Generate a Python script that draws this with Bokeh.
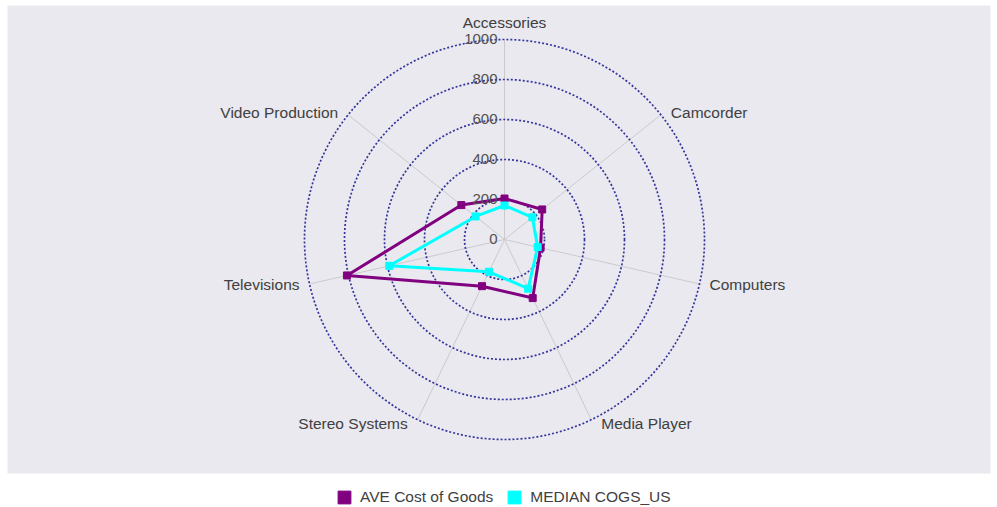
import math
from bokeh.plotting import figure
from bokeh.models import Range1d, Legend, LegendItem, ColumnDataSource
from bokeh.core.properties import value
from bokeh.embed import file_html
from bokeh.resources import INLINE

categories = ["Accessories", "Camcorder", "Computers", "Media Player",
              "Stereo Systems", "Televisions", "Video Production"]
ave_cost = [205, 241, 185, 325, 259, 808, 276]
median_cogs = [170, 178, 170, 273, 179, 591, 185]
ring_values = [200, 400, 600, 800, 1000]
tick_labels = ["0", "200", "400", "600", "800", "1000"]
series_names = ["AVE Cost of Goods", "MEDIAN COGS_US"]
series_colors = ["#800080", "#00ffff"]

R_MAX = 1000
UPP = 5.0  # data units per pixel
W, H = 995, 505
CX_PX, CY_PX = 504, 239          # centre of the radar in page pixels
PANEL = (7, 990, 5, 473)         # left, right, top, bottom of grey panel (px)
FONT_NAME = "Liberation Sans"
FONT = value(FONT_NAME)


def px_x(px):
    return (px - CX_PX) * UPP


def px_y(py):
    return (CY_PX - py) * UPP


p = figure(width=W, height=H, output_backend="svg", toolbar_location=None,
           x_range=Range1d(px_x(0), px_x(W)), y_range=Range1d(px_y(H), px_y(0)),
           min_border=0)
p.axis.visible = False
p.xgrid.visible = False
p.ygrid.visible = False
p.outline_line_color = None
p.background_fill_color = "white"
p.border_fill_color = "white"

# chart panel background
p.quad(left=[px_x(PANEL[0])], right=[px_x(PANEL[1])],
       top=[px_y(PANEL[2])], bottom=[px_y(PANEL[3])],
       fill_color="#e9e9ef", line_color=None)

n = len(categories)
angles = [2 * math.pi * i / n for i in range(n)]

# spokes
p.segment(x0=[0] * n, y0=[0] * n,
          x1=[R_MAX * math.sin(a) for a in angles],
          y1=[R_MAX * math.cos(a) for a in angles],
          line_color="#cacace", line_width=1)

# rings
p.circle(x=[0] * len(ring_values), y=[0] * len(ring_values), radius=ring_values,
         fill_color=None, line_color="#34349c", line_width=1.7, line_dash="2 2")

# series
legend_items = []
for nm, vals, col in zip(series_names, [ave_cost, median_cogs], series_colors):
    xs = [v * math.sin(a) for v, a in zip(vals, angles)]
    ys = [v * math.cos(a) for v, a in zip(vals, angles)]
    p.line(xs + xs[:1], ys + ys[:1], line_color=col, line_width=3)
    r = p.scatter(xs, ys, marker="square", size=7, fill_color=col, line_color=col)
    legend_items.append(LegendItem(label=nm, renderers=[r]))

# radial tick labels
tick_vals = [0] + ring_values
p.text(x=[-7 * UPP] * len(tick_vals), y=[v + 1 * UPP for v in tick_vals],
       text=tick_labels, text_align="right", text_baseline="middle",
       text_font=FONT, text_font_size="15px", text_color="#505050")

# category labels
lx, ly, la = [], [], []
for a in angles:
    ex, ey = R_MAX * math.sin(a), R_MAX * math.cos(a)
    s = math.sin(a)
    if abs(s) < 1e-6:
        lx.append(ex)
        ly.append(ey + 17 * UPP)
        la.append("center")
    else:
        sign = 1 if s > 0 else -1
        lx.append(ex + sign * 10 * UPP)
        ly.append(ey + 4 * math.cos(a) * UPP)
        la.append("left" if sign > 0 else "right")
src = ColumnDataSource(dict(x=lx, y=ly, text=categories, align=la))
p.text(x="x", y="y", text="text", text_align="align", source=src,
       text_baseline="middle", text_font=FONT, text_font_size="15.5px",
       text_color="#404040")

# legend: marker legend glyph is 0.4 x glyph box -> 32px box gives ~13px square
legend = Legend(items=legend_items, orientation="horizontal",
                location=(328, H - 497 - 16),
                label_text_font=FONT_NAME, label_text_font_size="15.5px",
                label_text_color="#404040", glyph_width=32, glyph_height=32,
                label_height=32, label_standoff=0, spacing=5, padding=0, margin=0,
                border_line_color=None, background_fill_alpha=0)
p.add_layout(legend)

open("out.html", "w").write(file_html(p, INLINE))
